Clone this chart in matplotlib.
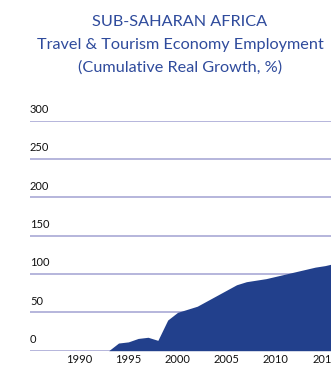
import matplotlib
matplotlib.use("Agg")
import matplotlib.pyplot as plt

# Cumulative real growth of Travel & Tourism economy employment (%)
years = [1993, 1994, 1995, 1996, 1997, 1998, 1999, 2000, 2001, 2002, 2003,
         2004, 2005, 2006, 2007, 2008, 2009, 2010, 2011, 2012, 2013, 2014,
         2015, 2016]
growth = [0, 10, 11.5, 16, 17.5, 13.5, 40, 50, 54, 58, 65,
          72, 79, 86, 90, 92, 94, 97, 100, 103, 106, 109,
          111, 114]

y_ticks = [0, 50, 100, 150, 200, 250, 300]
x_ticks = [1990, 1995, 2000, 2005, 2010, 2015]

title_lines = ["SUB-SAHARAN AFRICA",
               "Travel & Tourism Economy Employment",
               "(Cumulative Real Growth, %)"]

FONT = ["Lato", "DejaVu Sans"]
TITLE_COLOR = "#2f4b9c"
AREA_COLOR = "#22408c"
GRID_COLOR = "#a9a9d6"
LABEL_COLOR = "#111111"

W, H = 331, 367
fig = plt.figure(figsize=(W / 100, H / 100), dpi=100)

x0 = 30 / W
y0 = (H - 350.7) / H
y1 = (H - 120.7) / H
ax = fig.add_axes([x0, y0, 1 - x0, y1 - y0])
ax.set_xlim(1985, 2015.6)
ax.set_ylim(0, 300)

for v in y_ticks:
    ax.axhline(v, color=GRID_COLOR, lw=1.2, zorder=1)
    ax.annotate(str(v), xy=(0, v), xycoords=("axes fraction", "data"),
                xytext=(0, 4), textcoords="offset points",
                ha="left", va="bottom", fontsize=8, family=FONT,
                color=LABEL_COLOR)

ax.fill_between(years, growth, 0, color=AREA_COLOR, lw=0, zorder=2,
                clip_on=True)

ax.set_yticks([])
ax.set_xticks(x_ticks)
ax.set_xticklabels([str(t) for t in x_ticks], family=FONT, fontsize=8,
                   color=LABEL_COLOR)
ax.tick_params(axis="x", length=0, pad=2.5)
for s in ax.spines.values():
    s.set_visible(False)

for i, line in enumerate(title_lines):
    fig.text(180 / W, 1 - (22 + 23 * i) / H, line, ha="center", va="center",
             fontsize=11.7, family=FONT, color=TITLE_COLOR)

fig.savefig("out.png", dpi=100)
